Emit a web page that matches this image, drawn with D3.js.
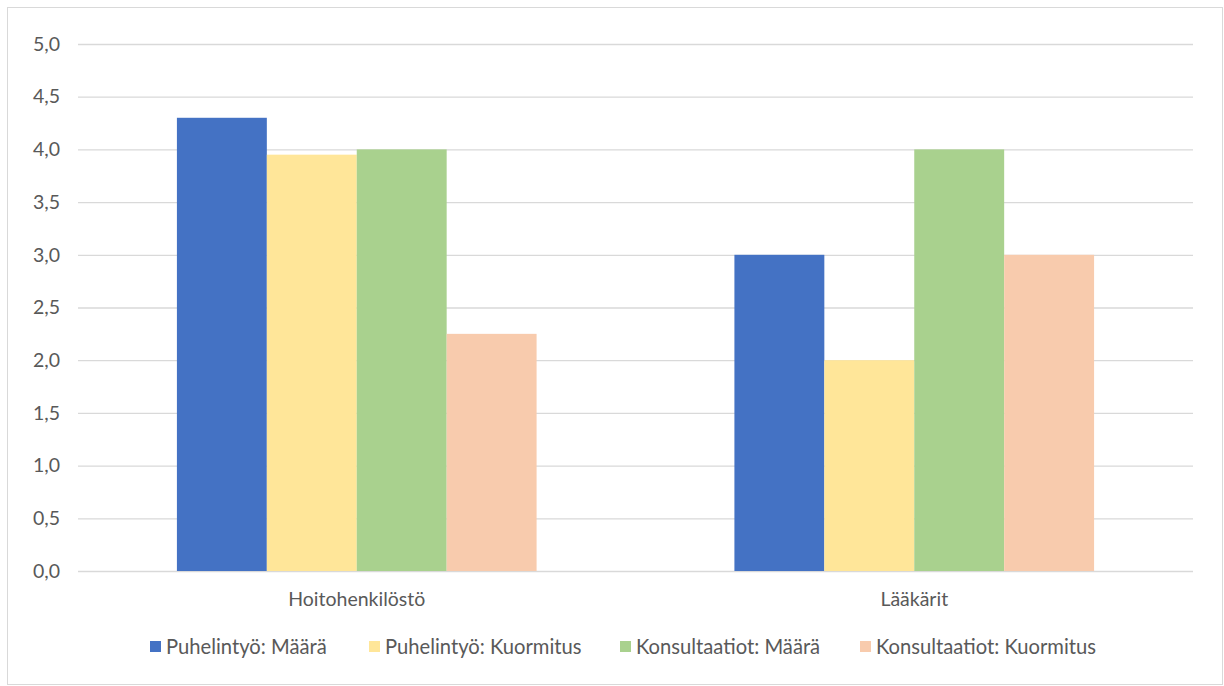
<!DOCTYPE html>
<html>
<head>
<meta charset="utf-8">
<script src="https://cdn.jsdelivr.net/npm/d3@7"></script>
<style>
  body { margin: 0; background: #fff; }
  text { font-family: Lato, "Open Sans", sans-serif; fill: #595959; }
</style>
</head>
<body>
<div id="chart"></div>
<script>
// data
const categories = ["Hoitohenkilöstö", "Lääkärit"];
const seriesNames = ["Puhelintyö: Määrä", "Puhelintyö: Kuormitus", "Konsultaatiot: Määrä", "Konsultaatiot: Kuormitus"];
const seriesColors = ["#4472c4", "#ffe699", "#a9d18e", "#f8cbad"];
const hoitoValues = [4.3, 3.95, 4.0, 2.25];
const laakaritValues = [3.0, 2.0, 4.0, 3.0];
const yTicks = [0, 0.5, 1, 1.5, 2, 2.5, 3, 3.5, 4, 4.5, 5];

const width = 1224;
const height = 686;
const margin = {left: 78, right: 31, top: 44, bottom: 115};
const fontSize = "19.5px";

const rows = categories.map((c, i) => ({
    cat: c,
    values: [hoitoValues, laakaritValues][i]
}));

const svg = d3.select("#chart")
    .append("svg")
    .attr("width", width)
    .attr("height", height);

// outer frame
svg.append("rect")
    .attr("x", 7.5).attr("y", 7.5)
    .attr("width", width - 9).attr("height", height - 9)
    .attr("fill", "none")
    .attr("stroke", "#d9d9d9");

let yScale = d3.scaleLinear()
    .domain([0, 5])
    .range([height - margin.bottom, margin.top]);

let x0 = d3.scaleBand()
    .domain(categories)
    .range([margin.left, width - margin.right]);

let x1 = d3.scaleBand()
    .domain(seriesNames)
    .range([0, x0.bandwidth()])
    .paddingOuter(1.1);

// gridlines + y labels
svg.append("g")
    .attr("transform", `translate(${margin.left},0)`)
    .call(d3.axisLeft(yScale)
        .tickValues(yTicks)
        .tickSize(-(width - margin.left - margin.right))
        .tickPadding(18)
        .tickFormat(d => d3.format(".1f")(d).replace(".", ",")))
    .call(g => g.select(".domain").remove())
    .call(g => g.selectAll("line").attr("stroke", "#d9d9d9").attr("stroke-width", 1.3))
    .call(g => g.selectAll("text").attr("font-size", fontSize).attr("fill", "#595959"));

// bars
const groups = svg.selectAll(".grp")
    .data(rows)
    .enter()
    .append("g")
        .attr("class", "grp")
        .attr("transform", d => `translate(${x0(d.cat)},0)`);

groups.selectAll("rect")
    .data(d => d.values.map((v, i) => ({name: seriesNames[i], value: v, color: seriesColors[i]})))
    .enter()
    .append("rect")
        .attr("x", d => x1(d.name))
        .attr("y", d => yScale(d.value))
        .attr("width", x1.bandwidth())
        .attr("height", d => yScale(0) - yScale(d.value))
        .attr("fill", d => d.color);

// category labels
svg.append("g")
    .attr("transform", `translate(0,${height - margin.bottom})`)
    .call(d3.axisBottom(x0).tickSize(0).tickPadding(21))
    .call(g => g.select(".domain").remove())
    .call(g => g.selectAll("text").attr("font-size", fontSize).attr("fill", "#595959"));

// legend
const legendX = [150, 369, 620, 860];
const legend = svg.append("g");
seriesNames.forEach((name, i) => {
    legend.append("rect")
        .attr("x", legendX[i]).attr("y", 641)
        .attr("width", 11).attr("height", 11)
        .attr("fill", seriesColors[i]);
    legend.append("text")
        .attr("x", legendX[i] + 16).attr("y", 647)
        .attr("dy", "0.35em")
        .attr("font-size", "20.2px")
        .text(name);
});
</script>
</body>
</html>
